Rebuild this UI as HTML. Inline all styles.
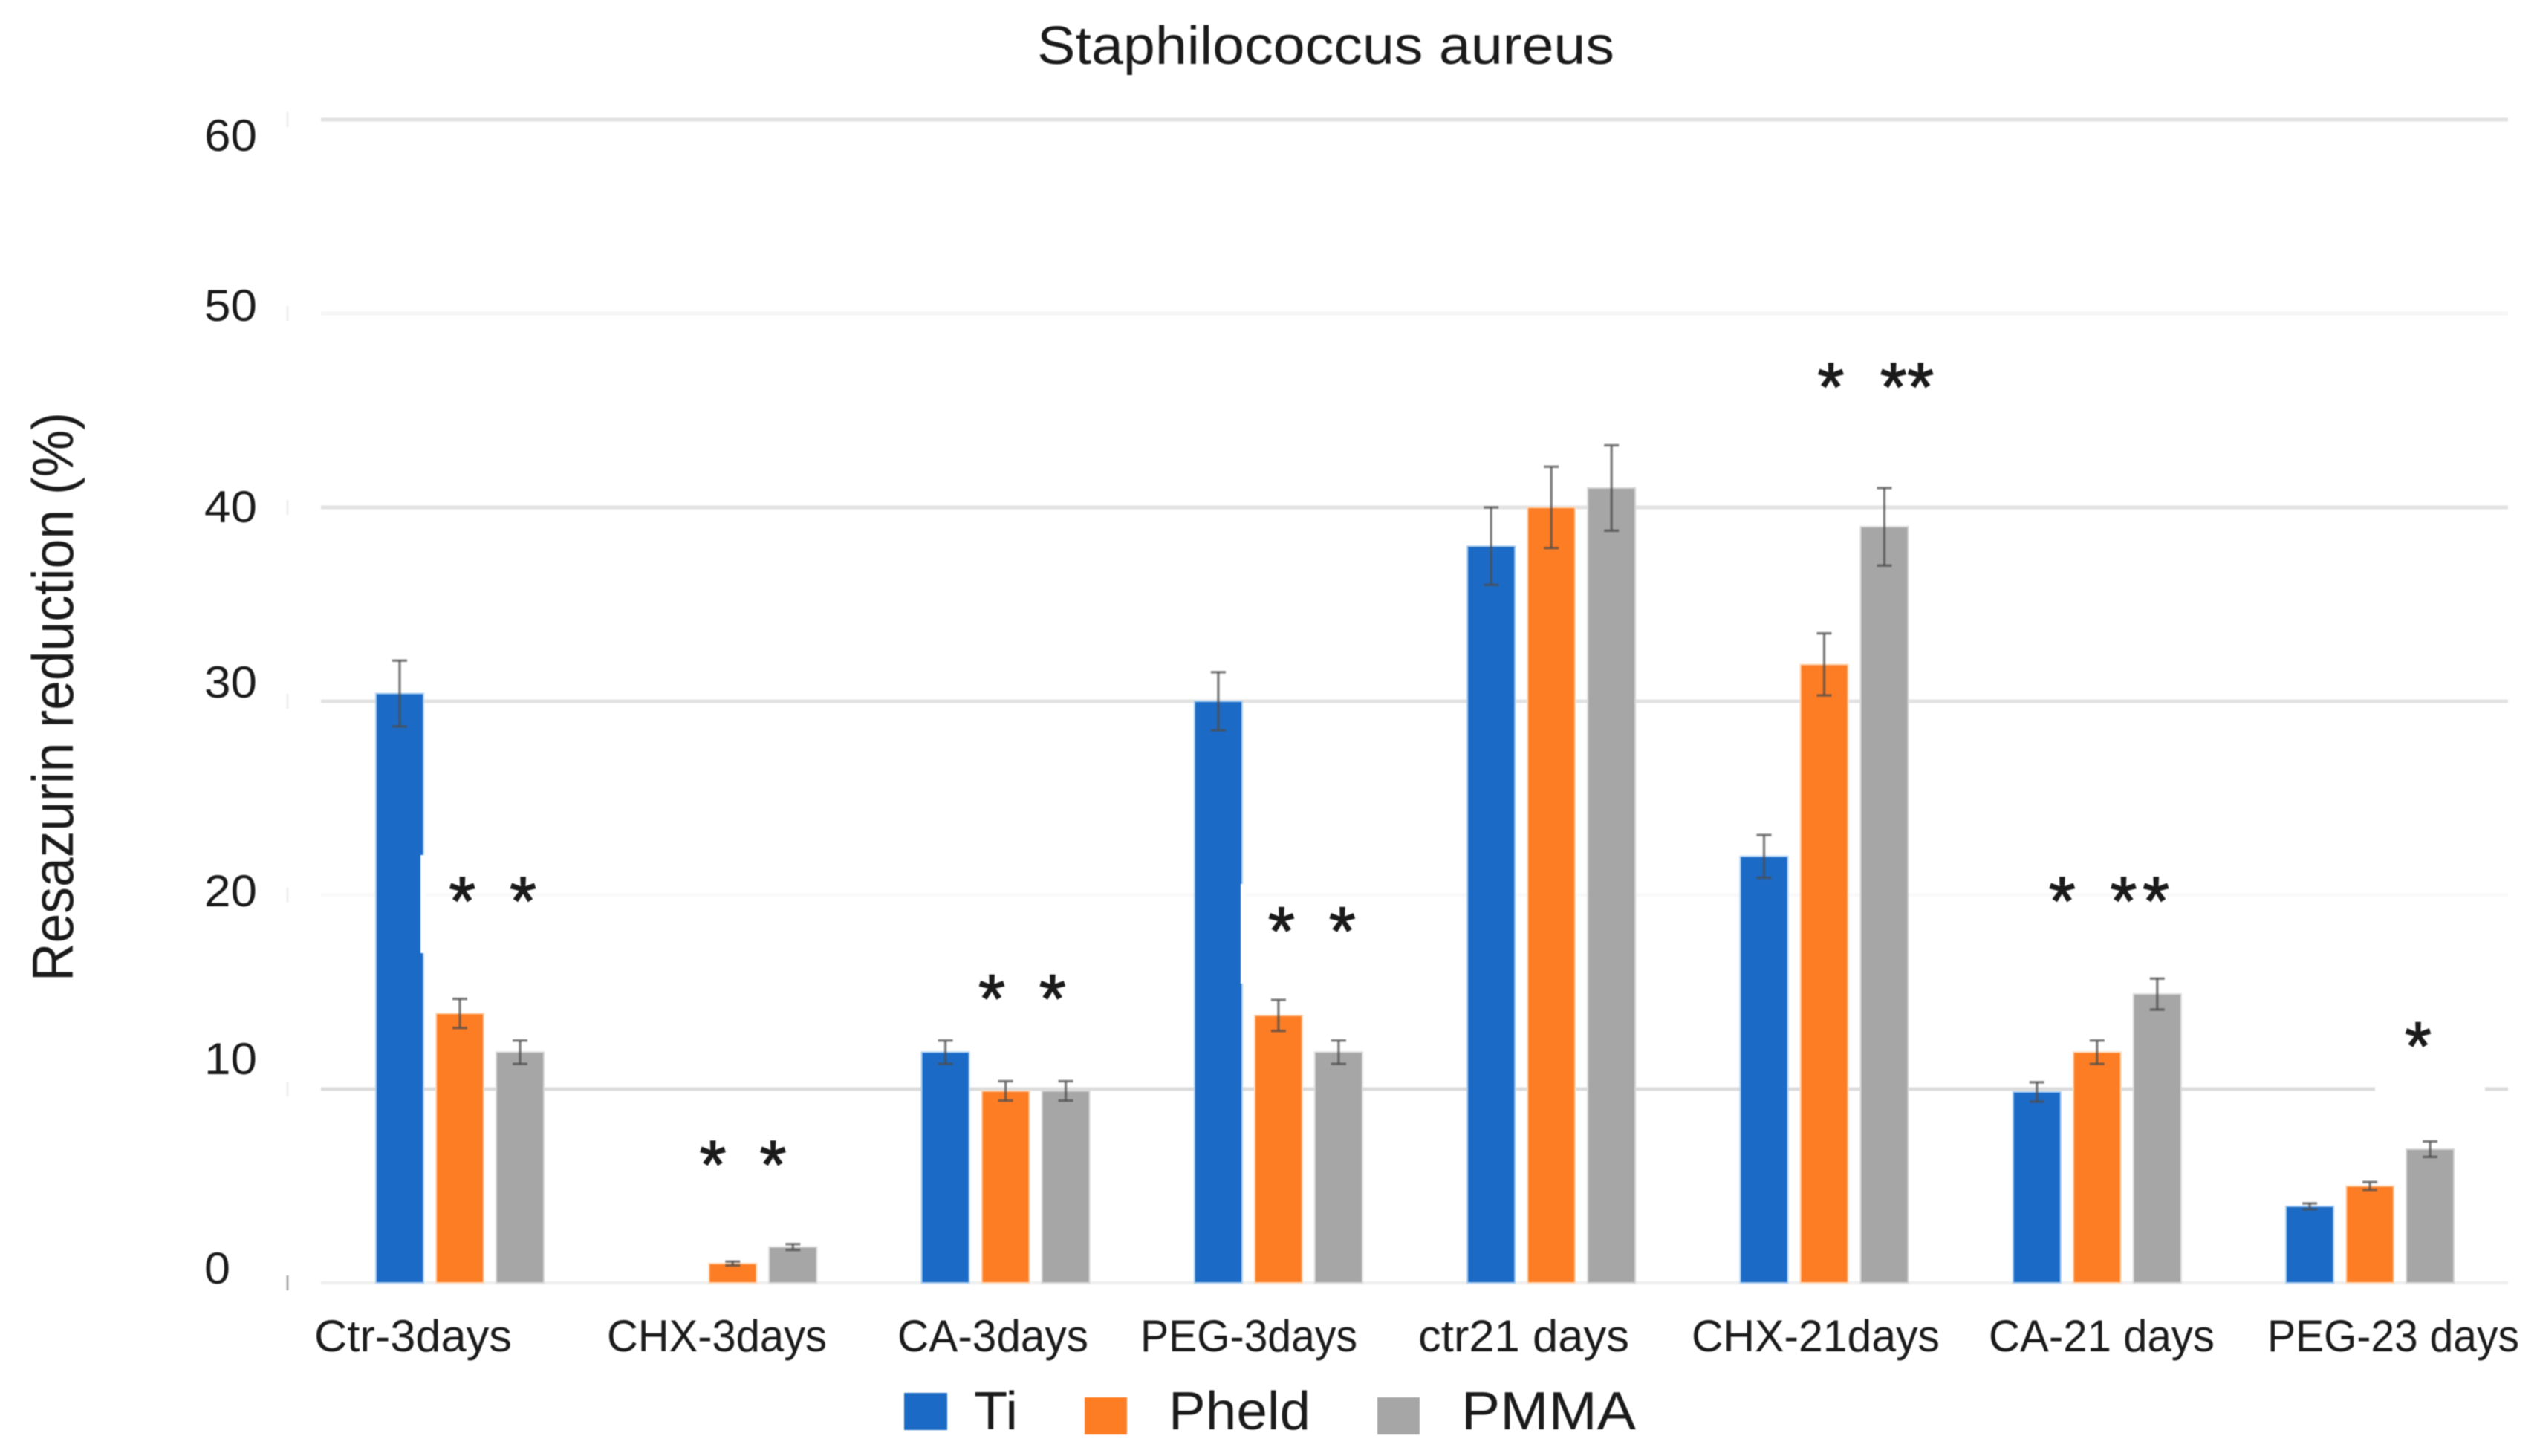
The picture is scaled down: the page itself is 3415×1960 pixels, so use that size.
<!DOCTYPE html>
<html lang="en">
<head>
<meta charset="utf-8">
<title>Staphilococcus aureus</title>
<style>
html,body{margin:0;padding:0;background:#fff;}
svg{display:block;font-family:"Liberation Sans",sans-serif;fill:#1a1a1a;filter:blur(0.7px);}
</style>
</head>
<body>
<svg id="chart" width="3415" height="1960" viewBox="0 0 3415 1960" xmlns="http://www.w3.org/2000/svg">
<rect x="0" y="0" width="3415" height="1960" fill="#fff"/>
<text x="1396" y="86" font-size="72" textLength="777" lengthAdjust="spacingAndGlyphs">Staphilococcus aureus</text>
<text transform="translate(98,1321) rotate(-90)" font-size="78" textLength="766" lengthAdjust="spacingAndGlyphs">Resazurin reduction (%)</text>
<g id="grid"></g>
<g font-size="60">
<text x="275" y="203" textLength="71" lengthAdjust="spacingAndGlyphs">60</text>
<text x="275" y="432" textLength="71" lengthAdjust="spacingAndGlyphs">50</text>
<text x="275" y="703" textLength="71" lengthAdjust="spacingAndGlyphs">40</text>
<text x="275" y="939" textLength="71" lengthAdjust="spacingAndGlyphs">30</text>
<text x="275" y="1220" textLength="71" lengthAdjust="spacingAndGlyphs">20</text>
<text x="275" y="1446" textLength="71" lengthAdjust="spacingAndGlyphs">10</text>
<text x="275" y="1728" textLength="35" lengthAdjust="spacingAndGlyphs">0</text>
</g>
<rect x="3197" y="1458" width="148" height="20" fill="#fff"/>
<g id="bars"></g>
<rect x="566" y="1151" width="7" height="132" fill="#fff"/>
<rect x="1670" y="1190" width="7" height="134" fill="#fff"/>
<g id="errors"></g>
<g id="stars"></g>
<g font-size="60">
<text x="423" y="1819" textLength="266" lengthAdjust="spacingAndGlyphs">Ctr-3days</text>
<text x="817" y="1819" textLength="296" lengthAdjust="spacingAndGlyphs">CHX-3days</text>
<text x="1208" y="1819" textLength="257" lengthAdjust="spacingAndGlyphs">CA-3days</text>
<text x="1535" y="1819" textLength="292" lengthAdjust="spacingAndGlyphs">PEG-3days</text>
<text x="1909" y="1819" textLength="284" lengthAdjust="spacingAndGlyphs">ctr21 days</text>
<text x="2277" y="1819" textLength="334" lengthAdjust="spacingAndGlyphs">CHX-21days</text>
<text x="2677" y="1819" textLength="304" lengthAdjust="spacingAndGlyphs">CA-21 days</text>
<text x="3052" y="1819" textLength="339" lengthAdjust="spacingAndGlyphs">PEG-23 days</text>
</g>
<g font-size="72">
<g>
<rect x="1217" y="1875" width="58" height="50" fill="#1b6ac6"/>
<text x="1311" y="1924" textLength="59" lengthAdjust="spacingAndGlyphs">Ti</text>
</g>
<g>
<rect x="1460" y="1881" width="57" height="50" fill="#fd7d25"/>
<text x="1573" y="1924" textLength="191" lengthAdjust="spacingAndGlyphs">Pheld</text>
</g>
<g>
<rect x="1854" y="1881" width="57" height="50" fill="#a6a6a6"/>
<text x="1967" y="1924" textLength="235" lengthAdjust="spacingAndGlyphs">PMMA</text>
</g>
</g>
</svg>
<script>
const categories = ["Ctr-3days","CHX-3days","CA-3days","PEG-3days","ctr21 days","CHX-21days","CA-21 days","PEG-23 days"];
const seriesNames = ["Ti","Pheld","PMMA"];
const seriesColors = ["#1b6ac6","#fd7d25","#a6a6a6"];
const seriesHalos = ["#a9cdf0","#ffd9b8","#d8d8d8"];
const tiValues = [30.4,0,11.9,30.0,38.0,22.0,9.85,3.95];
const pheldValues = [13.9,1.0,9.9,13.8,40.0,31.9,11.9,5.0];
const pmmaValues = [11.9,1.85,9.9,11.9,41.0,39.0,14.9,6.9];
const tiErrors = [1.7,0,0.6,1.5,2.0,1.1,0.5,0.15];
const pheldErrors = [0.75,0.1,0.5,0.8,2.1,1.6,0.6,0.2];
const pmmaErrors = [0.6,0.15,0.5,0.6,2.2,2.0,0.8,0.4];
const yTicks = [60,50,40,30,20,10,0];
const gridColors = ["#e2e2e2","#f6f6f6","#e2e2e2","#e2e2e2","#f9f9f9","#dcdcdc","#f0f0f0"];
const starCategory = [0,0,1,1,2,2,3,3,5,5,5,6,6,6,7];
const starSlot = [0.04,1.05,-0.33,0.67,-0.23,0.78,0.05,1.06,0.11,1.15,1.6,-0.58,0.44,0.98,0.8];
const starLevel = [20.1,20.1,6.5,6.5,15.05,15.05,18.55,18.55,46.6,46.6,46.6,20.1,20.1,20.1,12.6];

const NS = "http://www.w3.org/2000/svg";
function y(v){ return 1727 - v * 26.1; }
function groupX(i){ return 619 + i * 367.3; }
function slotX(i, s){ return groupX(i) + s * 81; }
function make(tag, attrs, parent){
  const el = document.createElementNS(NS, tag);
  for (const k in attrs) el.setAttribute(k, attrs[k]);
  parent.appendChild(el);
  return el;
}

const grid = document.getElementById("grid");
yTicks.forEach(function(t, idx){
  const line = make("line", {x1:432, x2:3376, y1:y(t), y2:y(t), stroke:gridColors[idx], "stroke-width":5}, grid);
  
  
  const tick = make("line", {x1:387, x2:387, y1:y(t)-10, y2:y(t)+10, stroke:t === 0 ? "#aaa" : "#eeeeee", "stroke-width":3}, grid);
  
  
});

const barLayer = document.getElementById("bars");
const errLayer = document.getElementById("errors");
const seriesValues = [tiValues, pheldValues, pmmaValues];
const seriesErrors = [tiErrors, pheldErrors, pmmaErrors];
seriesValues.forEach(function(values, s){
  values.forEach(function(v, i){
    if (v <= 0) return;
    const cx = slotX(i, s - 1);
    const bar = make("rect", {x:cx-32, y:y(v), width:64, height:y(0)-y(v), fill:seriesColors[s], stroke:seriesHalos[s], "stroke-width":2}, barLayer);
    
    
    const e = seriesErrors[s][i];
    if (e <= 0) return;
    const g = make("g", {stroke:"#4d4d4d", "stroke-width":3.5, "stroke-opacity":0.7}, errLayer);
    
    
    make("line", {x1:cx, x2:cx, y1:y(v+e), y2:y(v-e)}, g);
    make("line", {x1:cx-10, x2:cx+10, y1:y(v+e), y2:y(v+e)}, g);
    make("line", {x1:cx-10, x2:cx+10, y1:y(v-e), y2:y(v-e)}, g);
  });
});

const starLayer = document.getElementById("stars");
starCategory.forEach(function(c, k){
  const star = make("text", {x:slotX(c, starSlot[k]), y:y(starLevel[k]) + 42, "font-size":92, "text-anchor":"middle", stroke:"#1a1a1a", "stroke-width":1.5}, starLayer);
  star.textContent = "*";
  
  
});
</script>
</body>
</html>
